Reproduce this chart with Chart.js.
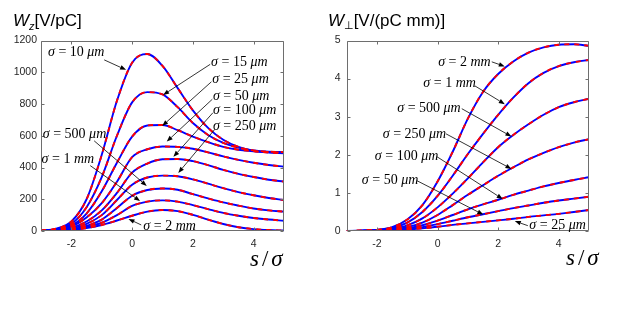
<!DOCTYPE html>
<html>
<head>
<meta charset="utf-8">
<script src="https://cdn.jsdelivr.net/npm/chart.js@4.4.1/dist/chart.umd.min.js"></script>
<style>
  html, body { margin: 0; padding: 0; background: #fff; }
  #wrap { position: relative; width: 641px; height: 324px; }
  #wrap canvas { position: absolute; top: 0; }
</style>
</head>
<body>
<div id="wrap">
  <canvas id="wz" width="320" height="324" style="left:0"></canvas>
  <canvas id="wp" width="321" height="324" style="left:320px"></canvas>
</div>
<script>
// s/sigma sample points, shared by every curve
var sPos = [-3, -2.5, -2, -1.5, -1, -0.5, 0, 0.5, 1, 1.5, 2, 2.5, 3, 3.5, 4, 4.5, 5];
var xTicks = [-2, 0, 2, 4];

// longitudinal wake Wz [V/pC], one list per bunch length
var wz10um  = [2, 15, 60, 200, 480, 820, 1060, 1115, 1040, 900, 760, 650, 575, 530, 505, 494, 490];
var wz15um  = [2, 12, 45, 150, 340, 600, 810, 875, 860, 780, 680, 605, 555, 525, 508, 500, 497];
var wz25um  = [1, 10, 35, 110, 250, 430, 595, 665, 668, 635, 595, 560, 530, 512, 502, 497, 494];
var wz50um  = [1, 8, 28, 85, 175, 310, 465, 515, 532, 530, 518, 495, 470, 448, 430, 416, 405];
var wz100um = [1, 6, 20, 60, 130, 240, 368, 425, 452, 454, 440, 415, 385, 360, 340, 323, 311];
var wz250um = [0, 4, 15, 45, 100, 195, 292, 337, 349, 345, 325, 298, 270, 245, 225, 208, 195];
var wz500um = [0, 3, 10, 32, 72, 145, 222, 258, 268, 260, 232, 205, 180, 160, 142, 130, 122];
var wz1mm   = [0, 3, 9, 25, 52, 100, 158, 185, 193, 185, 163, 138, 114, 96, 82, 72, 65];
var wz2mm   = [0, 2, 7, 18, 38, 66, 96, 122, 132, 125, 102, 72, 44, 24, 12, 6, 3];
var wzTicks = [0, 200, 400, 600, 800, 1000, 1200];

// transverse wake Wperp [V/(pC mm)]
var wp2mm   = [0, 0.01, 0.03, 0.1, 0.3, 0.68, 1.3, 2.08, 2.95, 3.65, 4.12, 4.45, 4.68, 4.82, 4.89, 4.9, 4.86];
var wp1mm   = [0, 0.01, 0.03, 0.08, 0.22, 0.5, 0.92, 1.45, 2.02, 2.55, 3.05, 3.5, 3.88, 4.15, 4.33, 4.43, 4.49];
var wp500um = [0, 0.01, 0.02, 0.06, 0.15, 0.33, 0.62, 0.98, 1.38, 1.8, 2.2, 2.52, 2.8, 3.05, 3.25, 3.38, 3.47];
var wp250um = [0, 0.005, 0.015, 0.04, 0.1, 0.22, 0.42, 0.68, 0.95, 1.2, 1.45, 1.67, 1.88, 2.05, 2.2, 2.32, 2.41];
var wp100um = [0, 0.003, 0.01, 0.03, 0.07, 0.15, 0.27, 0.42, 0.57, 0.7, 0.82, 0.95, 1.06, 1.17, 1.26, 1.34, 1.41];
var wp50um  = [0, 0.002, 0.008, 0.02, 0.05, 0.1, 0.18, 0.27, 0.36, 0.44, 0.52, 0.6, 0.67, 0.74, 0.8, 0.85, 0.9];
var wp25um  = [0, 0.002, 0.006, 0.015, 0.035, 0.07, 0.11, 0.16, 0.2, 0.24, 0.28, 0.32, 0.37, 0.41, 0.45, 0.5, 0.55];
var wpTicks = [0, 1, 2, 3, 4, 5];

// curve labels: value, unit, text position, arrow start, arrow tip (data units)
var wzLabels = [
  ['10', 'μm', [-2.77, 1125], [-0.92, 1078], [-0.2, 1015]],
  ['15', 'μm', [2.6, 1062], [2.57, 1050], [1.02, 857]],
  ['25', 'μm', [2.64, 958], [2.61, 940], [0.99, 662]],
  ['50', 'μm', [2.66, 847], [2.64, 830], [1.14, 563]],
  ['100', 'μm', [2.66, 763], [2.66, 745], [1.36, 467]],
  ['250', 'μm', [2.66, 662], [2.72, 640], [1.52, 366]],
  ['500', 'μm', [-2.94, 611], [-1.25, 568], [0.48, 284]],
  ['1', 'mm', [-2.98, 454], [-1.38, 412], [0.26, 189]],
  ['2', 'mm', [0.37, 31], [0.3, 38], [-0.12, 76]]
];
var wpLabels = [
  ['2', 'mm', [0.02, 4.43], [1.79, 4.44], [2.22, 4.32]],
  ['1', 'mm', [-0.47, 3.88], [1.23, 3.81], [2.22, 3.33]],
  ['500', 'μm', [-1.33, 3.21], [0.8, 3.21], [2.44, 2.48]],
  ['250', 'μm', [-1.81, 2.55], [0.28, 2.55], [2.44, 1.63]],
  ['100', 'μm', [-2.07, 1.95], [-0.02, 1.95], [2.15, 0.84]],
  ['50', 'μm', [-2.5, 1.32], [-0.68, 1.32], [1.51, 0.43]],
  ['25', 'μm', [3.03, 0.14], [2.98, 0.14], [2.55, 0.26]]
];

var SANS = 'Liberation Sans, Arial, sans-serif';
var SERIF = 'Liberation Serif, Times New Roman, serif';

// write a line made of differently styled pieces (text, font, dy, extra gap after)
function drawParts(ctx, x, y, parts) {
  parts.forEach(function (p) {
    ctx.font = p[1];
    ctx.fillText(p[0], x, y + (p[2] || 0));
    x += ctx.measureText(p[0]).width + (p[3] || 0);
  });
}

function arrow(ctx, x0, y0, x1, y1) {
  var ang = Math.atan2(y1 - y0, x1 - x0), len = 6, w = 2.3;
  var bx = x1 - len * Math.cos(ang), by = y1 - len * Math.sin(ang);
  ctx.beginPath();
  ctx.moveTo(x0, y0);
  ctx.lineTo(bx, by);
  ctx.stroke();
  ctx.beginPath();
  ctx.moveTo(x1, y1);
  ctx.lineTo(bx + w * Math.sin(ang), by - w * Math.cos(ang));
  ctx.lineTo(bx - w * Math.sin(ang), by + w * Math.cos(ang));
  ctx.closePath();
  ctx.fill();
}

// box, inward ticks, titles and the arrow labels
var decor = {
  id: 'decor',
  afterDatasetsDraw: function (chart, args, o) {
    var ctx = chart.ctx, a = chart.chartArea;
    var xs = chart.scales.x, ys = chart.scales.y;
    var L = Math.round(a.left) + 0.5, R = Math.round(a.right) - 0.5;
    var T = Math.round(a.top) + 0.5, B = Math.round(a.bottom) - 0.5;
    ctx.save();
    ctx.strokeStyle = '#6e6e6e';
    ctx.lineWidth = 1;
    ctx.beginPath();
    ctx.rect(L, T, R - L, B - T);
    xs.ticks.forEach(function (t) {
      var p = Math.round(xs.getPixelForValue(t.value)) + 0.5;
      ctx.moveTo(p, B); ctx.lineTo(p, B - 3);
      ctx.moveTo(p, T); ctx.lineTo(p, T + 3);
    });
    ys.ticks.forEach(function (t) {
      var p = Math.round(ys.getPixelForValue(t.value)) + 0.5;
      ctx.moveTo(L, p); ctx.lineTo(L + 3, p);
      ctx.moveTo(R, p); ctx.lineTo(R - 3, p);
    });
    ctx.stroke();

    ctx.fillStyle = '#000';
    ctx.textBaseline = 'alphabetic';
    drawParts(ctx, o.titleAt[0], o.titleAt[1], o.title);
    drawParts(ctx, o.xTitleAt[0], o.xTitleAt[1], [
      ['s', 'italic 23px ' + SERIF, 0, 3], ['/', '23px ' + SERIF, 0, 3], ['σ', 'italic 23px ' + SERIF]
    ]);

    ctx.strokeStyle = '#000';
    ctx.lineWidth = 0.8;
    ctx.textBaseline = 'middle';
    o.labels.forEach(function (l) {
      var tx = xs.getPixelForValue(l[2][0]), ty = ys.getPixelForValue(l[2][1]);
      drawParts(ctx, tx, ty, [
        ['σ', 'italic 14px ' + SERIF], [' = ' + l[0] + ' ', '14px ' + SERIF], [l[1], 'italic 14px ' + SERIF]
      ]);
      arrow(ctx, xs.getPixelForValue(l[3][0]), ys.getPixelForValue(l[3][1]),
        xs.getPixelForValue(l[4][0]), ys.getPixelForValue(l[4][1]));
    });
    ctx.restore();
  }
};

function makeSets(curves) {
  var sets = [];
  curves.forEach(function (c) {
    var pts = sPos.map(function (s, i) { return { x: s, y: c[i] }; });
    sets.push({ data: pts, borderColor: '#0000ff', borderWidth: 1.9, order: 2 });
    sets.push({ data: pts, borderColor: '#ff0000', borderWidth: 1.9, borderDash: [5, 5], order: 1 });
  });
  return sets;
}

function createChart(id, curves, yTicks, yMax, pad, yWidth, yPad, decorOpts) {
  var ctx = document.getElementById(id).getContext('2d');
  return new Chart(ctx, {
    type: 'line',
    data: { datasets: makeSets(curves) },
    options: {
      responsive: false,
      animation: false,
      devicePixelRatio: 1,
      layout: { padding: pad },
      elements: {
        point: { radius: 0 },
        line: { cubicInterpolationMode: 'monotone', fill: false }
      },
      plugins: { legend: { display: false }, tooltip: { enabled: false }, decor: decorOpts },
      scales: {
        x: {
          type: 'linear', min: -3, max: 5,
          afterBuildTicks: function (s) { s.ticks = xTicks.map(function (v) { return { value: v }; }); },
          afterFit: function (s) { s.height = 93; },
          grid: { display: false, drawTicks: false },
          border: { display: false },
          ticks: {
            color: '#262626', padding: 7, maxRotation: 0,
            font: { family: SANS, size: 10.5 },
            callback: function (v) { return String(v); }
          }
        },
        y: {
          type: 'linear', min: 0, max: yMax,
          afterBuildTicks: function (s) { s.ticks = yTicks.map(function (v) { return { value: v }; }); },
          afterFit: function (s) { s.width = yWidth; },
          grid: { display: false, drawTicks: false },
          border: { display: false },
          ticks: {
            color: '#262626', padding: yPad,
            font: { family: SANS, size: 10.5 },
            callback: function (v) { return String(v); }
          }
        }
      }
    },
    plugins: [decor]
  });
}

var wzChart = createChart('wz',
  [wz10um, wz15um, wz25um, wz50um, wz100um, wz250um, wz500um, wz1mm, wz2mm],
  wzTicks, 1200, { left: 0, right: 36, top: 40.5, bottom: 0 }, 41, 4,
  {
    title: [['W', 'italic 17px ' + SANS], ['z', 'italic 11px ' + SANS, 4], ['[V/pC]', '17px ' + SANS]],
    titleAt: [13, 25.5],
    xTitleAt: [250, 266],
    labels: wzLabels
  });

var wpChart = createChart('wp',
  [wp2mm, wp1mm, wp500um, wp250um, wp100um, wp50um, wp25um],
  wpTicks, 5, { left: 0, right: 52, top: 40.5, bottom: 0 }, 26.7, 6,
  {
    title: [['W', 'italic 17px ' + SANS], ['⊥', '11px DejaVu Sans', 3], ['[V/(pC mm)]', '17px ' + SANS]],
    titleAt: [8, 25.5],
    xTitleAt: [246, 265],
    labels: wpLabels
  });
</script>
</body>
</html>
